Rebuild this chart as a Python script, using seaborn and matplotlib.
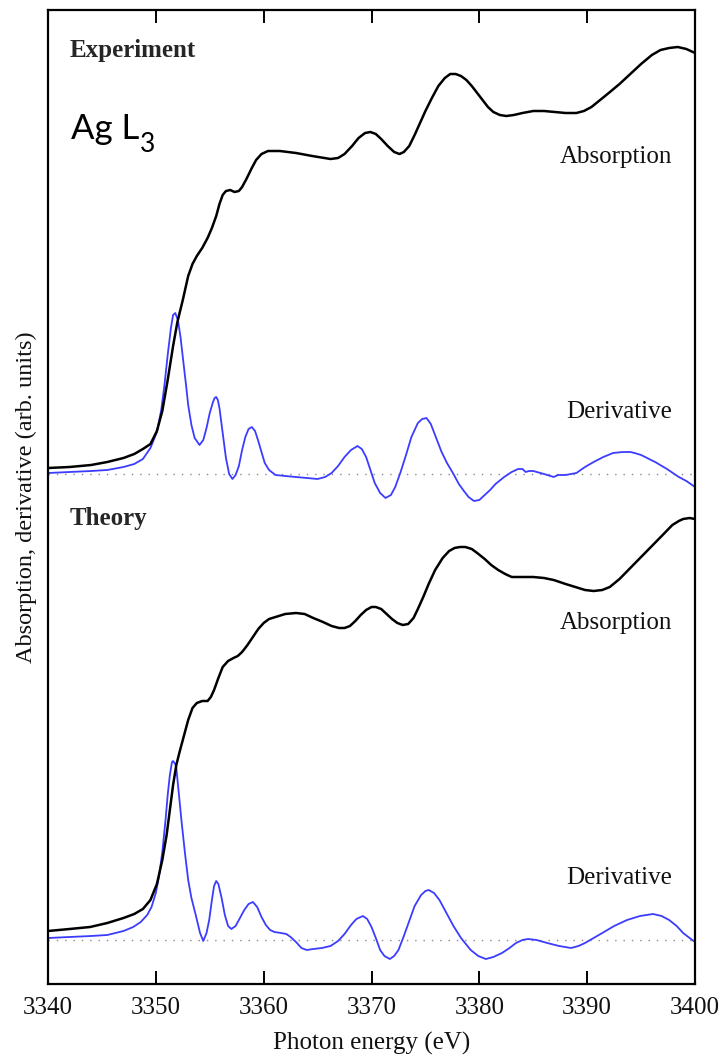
import numpy as np
import matplotlib
matplotlib.use("Agg")
import matplotlib.pyplot as plt
import matplotlib.transforms as mtransforms
import seaborn as sns

# ---- Ag L3 edge spectra (photon energy in eV, intensities in arb. units) ----
# Curves are given relative to the baseline of their panel.

exp_abs_energy = [3340.0, 3342.0, 3344.0, 3345.5, 3347.0, 3348.0, 3348.8, 3349.5, 3350.1, 3350.6,
                  3351.1, 3351.6, 3352.0, 3352.5, 3353.0, 3353.4, 3353.8, 3354.3, 3354.8, 3355.2,
                  3355.6, 3355.9, 3356.2, 3356.5, 3356.9, 3357.3, 3357.7, 3358.0, 3358.4, 3358.9,
                  3359.3, 3359.8, 3360.4, 3361.5, 3363.0, 3364.5, 3366.2, 3366.9, 3367.5, 3368.2,
                  3368.8, 3369.4, 3369.9, 3370.4, 3370.9, 3371.5, 3372.1, 3372.6, 3373.0, 3373.5,
                  3374.0, 3374.5, 3375.0, 3375.6, 3376.2, 3376.8, 3377.3, 3377.8, 3378.3, 3378.8,
                  3379.3, 3379.8, 3380.3, 3380.8, 3381.3, 3381.9, 3382.5, 3383.2, 3384.0, 3385.0,
                  3386.0, 3387.0, 3388.0, 3389.0, 3389.7, 3390.4, 3391.2, 3392.0, 3393.0, 3394.0,
                  3395.0, 3396.0, 3396.8, 3397.6, 3398.4, 3399.2, 3400.0]
exp_abs = [0.6, 0.7, 0.9, 1.2, 1.6, 2.0, 2.5, 3.0, 4.3, 6.3,
           9.4, 12.8, 15.2, 17.4, 19.8, 21.0, 21.8, 22.6, 23.6, 24.6,
           25.8, 27.0, 27.9, 28.3, 28.4, 28.2, 28.3, 28.7, 29.5, 30.6,
           31.4, 32.0, 32.3, 32.3, 32.1, 31.8, 31.5, 31.6, 32.0, 32.8,
           33.6, 34.1, 34.2, 34.0, 33.5, 32.8, 32.2, 32.0, 32.2, 32.8,
           33.9, 35.1, 36.3, 37.6, 38.8, 39.6, 40.0, 40.0, 39.8, 39.4,
           38.8, 38.1, 37.4, 36.7, 36.2, 35.9, 35.8, 35.9, 36.1, 36.3,
           36.3, 36.2, 36.1, 36.1, 36.3, 36.7, 37.4, 38.1, 39.0, 40.0,
           41.0, 41.9, 42.4, 42.6, 42.7, 42.5, 42.1]

exp_der_energy = [3340.0, 3342.0, 3344.0, 3345.5, 3347.0, 3348.0, 3348.8, 3349.5, 3350.1, 3350.5,
                  3350.8, 3351.1, 3351.4, 3351.6, 3351.8, 3352.05, 3352.3, 3352.5, 3352.8, 3353.0,
                  3353.3, 3353.6, 3354.05, 3354.4, 3354.7, 3355.0, 3355.3, 3355.45, 3355.6, 3355.75,
                  3355.9, 3356.2, 3356.5, 3356.8, 3357.1, 3357.4, 3357.7, 3358.0, 3358.3, 3358.6,
                  3358.9, 3359.2, 3359.5, 3359.8, 3360.1, 3360.5, 3361.1, 3362.0, 3363.0, 3364.0,
                  3365.0, 3365.7, 3366.3, 3366.9, 3367.5, 3368.1, 3368.7, 3369.1, 3369.5, 3369.9,
                  3370.3, 3370.8, 3371.3, 3371.8, 3372.2, 3372.7, 3373.2, 3373.7, 3374.3, 3374.7,
                  3375.1, 3375.5, 3376.0, 3376.5, 3377.0, 3377.6, 3378.1, 3378.5, 3379.0, 3379.5,
                  3380.0, 3380.5, 3381.0, 3381.5, 3382.3, 3383.0, 3383.6, 3384.0, 3384.3, 3384.6,
                  3385.0, 3386.0, 3386.9, 3387.3, 3388.0, 3389.0, 3389.8, 3390.6, 3391.5, 3392.4,
                  3393.3, 3394.0, 3394.4, 3395.0, 3396.3, 3397.4, 3398.5, 3399.2, 3400.0]
exp_der = [0.1, 0.2, 0.3, 0.4, 0.7, 1.0, 1.5, 2.6, 4.2, 6.4,
           8.9, 11.9, 14.6, 15.9, 16.1, 15.4, 13.6, 11.7, 8.9, 6.9,
           4.9, 3.6, 2.9, 3.4, 4.6, 6.1, 7.2, 7.6, 7.7, 7.4,
           6.6, 4.1, 1.6, 0.0, -0.5, -0.1, 0.8, 2.4, 3.7, 4.5,
           4.7, 4.3, 3.3, 2.2, 1.1, 0.4, -0.1, -0.2, -0.3, -0.4,
           -0.5, -0.3, 0.1, 0.8, 1.7, 2.4, 2.8, 2.5, 1.7, 0.4,
           -0.9, -1.9, -2.4, -2.1, -1.3, 0.2, 1.9, 3.7, 5.1, 5.5,
           5.6, 5.0, 3.6, 2.2, 1.1, 0.0, -1.0, -1.6, -2.3, -2.7,
           -2.6, -2.1, -1.6, -1.0, -0.3, 0.2, 0.5, 0.5, 0.2, 0.3,
           0.3, 0.0, -0.3, -0.1, -0.1, 0.1, 0.7, 1.2, 1.7, 2.1,
           2.2, 2.2, 2.1, 1.9, 1.2, 0.5, -0.3, -0.7, -1.3]

theo_abs_energy = [3340.0, 3342.0, 3343.9, 3345.5, 3347.0, 3348.0, 3348.8, 3349.5, 3350.1, 3350.6,
                   3351.0, 3351.3, 3351.6, 3351.9, 3352.2, 3352.5, 3353.0, 3353.4, 3353.8, 3354.3,
                   3354.8, 3355.1, 3355.4, 3355.8, 3356.2, 3356.7, 3357.2, 3357.6, 3358.0, 3358.5,
                   3359.0, 3359.5, 3360.0, 3360.5, 3361.1, 3362.0, 3363.0, 3363.8, 3364.6, 3365.5,
                   3366.3, 3367.0, 3367.5, 3368.0, 3368.5, 3369.0, 3369.5, 3370.0, 3370.4, 3370.9,
                   3371.4, 3371.9, 3372.4, 3372.9, 3373.4, 3373.9, 3374.3, 3374.8, 3375.3, 3375.9,
                   3376.6, 3377.2, 3377.7, 3378.2, 3378.7, 3379.3, 3379.8, 3380.5, 3381.1, 3381.75,
                   3382.4, 3383.0, 3384.0, 3385.0, 3386.0, 3386.9, 3388.0, 3388.9, 3389.8, 3390.6,
                   3391.4, 3392.1, 3393.0, 3394.0, 3395.0, 3396.0, 3397.0, 3397.9, 3398.5, 3398.9,
                   3399.5, 3400.0]
theo_abs = [0.9, 1.1, 1.3, 1.7, 2.2, 2.6, 3.1, 4.0, 5.6, 8.0,
            10.5, 13.0, 15.5, 17.5, 18.8, 20.0, 22.0, 23.2, 23.7, 23.9,
            23.9, 24.3, 25.0, 26.2, 27.3, 27.9, 28.2, 28.4, 28.8, 29.5,
            30.3, 31.1, 31.7, 32.1, 32.3, 32.6, 32.7, 32.6, 32.2, 31.8,
            31.4, 31.2, 31.2, 31.4, 31.9, 32.5, 33.0, 33.3, 33.3, 33.1,
            32.6, 32.1, 31.7, 31.5, 31.6, 32.2, 33.1, 34.3, 35.6, 37.0,
            38.2, 38.9, 39.2, 39.3, 39.3, 39.1, 38.7, 38.1, 37.5, 37.0,
            36.6, 36.3, 36.3, 36.3, 36.2, 36.0, 35.6, 35.3, 35.0, 34.9,
            35.0, 35.3, 36.1, 37.2, 38.3, 39.4, 40.5, 41.5, 41.9, 42.1,
            42.2, 42.1]

theo_der_energy = [3340.0, 3342.0, 3344.0, 3345.5, 3347.0, 3347.9, 3348.6, 3349.2, 3349.6, 3350.0,
                   3350.3, 3350.6, 3350.9, 3351.1, 3351.3, 3351.5, 3351.6, 3351.8, 3351.9, 3352.1,
                   3352.4, 3352.7, 3353.0, 3353.3, 3353.7, 3354.1, 3354.4, 3354.7, 3354.95, 3355.2,
                   3355.4, 3355.6, 3355.8, 3356.1, 3356.4, 3356.7, 3357.0, 3357.4, 3357.8, 3358.2,
                   3358.6, 3359.0, 3359.4, 3359.8, 3360.2, 3360.6, 3361.0, 3361.6, 3362.1, 3362.5,
                   3363.0, 3363.5, 3364.0, 3364.6, 3365.4, 3366.2, 3366.9, 3367.5, 3368.1, 3368.6,
                   3369.2, 3369.6, 3370.0, 3370.4, 3370.8, 3371.2, 3371.7, 3372.1, 3372.5, 3373.0,
                   3373.5, 3374.0, 3374.6, 3375.0, 3375.3, 3375.8, 3376.3, 3376.9, 3377.6, 3378.3,
                   3379.2, 3379.9, 3380.6, 3381.3, 3382.1, 3382.8, 3383.4, 3384.0, 3384.5, 3385.3,
                   3386.3, 3387.4, 3388.5, 3389.2, 3389.8, 3390.6, 3391.4, 3392.5, 3393.7, 3394.9,
                   3396.1, 3396.9, 3397.6, 3398.3, 3398.9, 3399.5, 3400.0]
theo_der = [0.2, 0.3, 0.4, 0.5, 0.9, 1.3, 1.8, 2.5, 3.3, 4.7,
            6.4, 8.8, 12.0, 14.5, 16.5, 17.8, 17.9, 17.6, 17.2, 15.0,
            11.7, 8.7, 6.0, 4.2, 2.5, 0.7, -0.1, 0.7, 2.0, 4.0,
            5.4, 5.9, 5.6, 4.2, 2.5, 1.4, 1.1, 1.4, 2.2, 3.0,
            3.6, 3.8, 3.3, 2.3, 1.5, 1.0, 0.8, 0.7, 0.6, 0.3,
            -0.2, -0.8, -1.0, -0.9, -0.8, -0.6, -0.1, 0.6, 1.5, 2.1,
            2.4, 2.1, 1.3, 0.2, -1.0, -1.6, -1.9, -1.6, -1.0, 0.4,
            1.9, 3.4, 4.5, 4.9, 5.0, 4.7, 4.0, 2.8, 1.4, 0.2,
            -1.0, -1.6, -1.9, -1.7, -1.3, -0.8, -0.3, 0.0, 0.1, 0.0,
            -0.3, -0.6, -0.8, -0.6, -0.3, 0.2, 0.7, 1.4, 2.0, 2.4,
            2.6, 2.4, 2.0, 1.4, 0.7, 0.2, -0.2]

x_ticks = [3340, 3350, 3360, 3370, 3380, 3390, 3400]

# vertical stacking of the two panels
EXP_BASE = 51.0
THEO_BASE = 4.4
Y_TOP = 97.4

ABS_COLOR = "black"
DER_COLOR = "#3c3cff"

sns.set_theme(style="white")
plt.rcParams["font.family"] = ["Liberation Serif", "DejaVu Serif"]

fig = plt.figure(figsize=(7.27, 10.64), dpi=100)
ax = fig.add_axes([48 / 727, 80 / 1064, 647 / 727, 974 / 1064])

# zero lines of the derivatives
for base in (EXP_BASE, THEO_BASE):
    ax.axhline(base, color="#8a8a8a", lw=1.0, ls=(0, (1, 5)), zorder=1)

sns.lineplot(x=np.array(exp_der_energy), y=EXP_BASE + np.array(exp_der), ax=ax,
             color=DER_COLOR, lw=1.3, sort=False, estimator=None, zorder=2)
sns.lineplot(x=np.array(exp_abs_energy), y=EXP_BASE + np.array(exp_abs), ax=ax,
             color=ABS_COLOR, lw=1.8, sort=False, estimator=None, zorder=3)
sns.lineplot(x=np.array(theo_der_energy), y=THEO_BASE + np.array(theo_der), ax=ax,
             color=DER_COLOR, lw=1.3, sort=False, estimator=None, zorder=2)
sns.lineplot(x=np.array(theo_abs_energy), y=THEO_BASE + np.array(theo_abs), ax=ax,
             color=ABS_COLOR, lw=1.8, sort=False, estimator=None, zorder=3)

ax.set_xlim(3340, 3400)
ax.set_ylim(0, Y_TOP)
ax.set_xticks(x_ticks)
ax.set_yticks([])
ax.tick_params(axis="x", direction="in", length=9.5, width=1.4, color="black",
               top=True, bottom=True, labelsize=18, pad=9, labelcolor="#111111")
for sp in ax.spines.values():
    sp.set_color("black")
    sp.set_linewidth(1.6)

ax.set_xlabel("Photon energy (eV)", fontsize=18, color="#111111", labelpad=10)
ax.set_ylabel("Absorption, derivative (arb. units)", fontsize=17.5, color="#111111", labelpad=8)

# panel titles and curve labels
ax.text(3342.0, 93.4, "Experiment", fontsize=18, fontweight="bold", va="center", ha="left")
edge = ax.text(3342.1, 84.5, "Ag L", fontsize=25, family=["Lato", "DejaVu Sans"],
               va="baseline", ha="left", color="black")
fig.canvas.draw()
bb = edge.get_window_extent(renderer=fig.canvas.get_renderer())
x_end = ax.transData.inverted().transform((bb.x1, bb.y0))[0]
sub_offset = mtransforms.offset_copy(ax.transData, fig=fig, x=0.5, y=-9, units="points")
ax.text(x_end, 84.5, "3", fontsize=19, family=["Lato", "DejaVu Sans"],
        va="baseline", ha="left", color="black", transform=sub_offset)

ax.text(3397.9, 82.7, "Absorption", fontsize=18, va="center", ha="right", color="#111111")
ax.text(3397.9, 57.2, "Derivative", fontsize=18, va="center", ha="right", color="#111111")
ax.text(3342.0, 46.6, "Theory", fontsize=18, fontweight="bold", va="center", ha="left")
ax.text(3397.9, 36.1, "Absorption", fontsize=18, va="center", ha="right", color="#111111")
ax.text(3397.9, 10.6, "Derivative", fontsize=18, va="center", ha="right", color="#111111")

fig.savefig("out.png", dpi=100, facecolor="white")
